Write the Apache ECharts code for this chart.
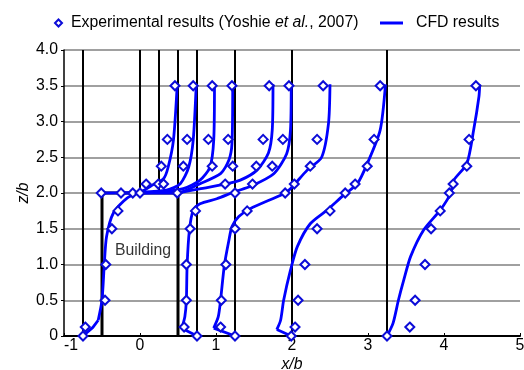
<!DOCTYPE html>
<html>
<head>
<meta charset="utf-8">
<script src="https://cdn.jsdelivr.net/npm/echarts@6/dist/echarts.min.js"></script>
<style>
html,body{margin:0;padding:0;background:#fff;}
#c{width:524px;height:370px;}
</style>
</head>
<body>
<div id="c"></div>
<script>
// ---------- data ----------
var xTicks = [-1, 0, 1, 2, 3, 4, 5];
var zTicks = [0, 0.5, 1, 1.5, 2, 2.5, 3, 3.5, 4];

// measurement heights
var zFull = [0, 0.125, 0.5, 1.0, 1.5, 1.75, 2.0, 2.125, 2.375, 2.75, 3.5];
var zRoof = [2.0, 2.125, 2.375, 2.75, 3.5];

// experimental (plotted x positions)
var expUp    = [-0.75, -0.72, -0.46, -0.45, -0.37, -0.29, -0.095, 0.08, 0.28, 0.36, 0.46];
var expRoofA = [-0.51, 0.24, 0.57, 0.62, 0.70];
var expRoofB = [-0.25, 0.31, 0.95, 0.90, 0.95];
var expRoofC = [0.0, 1.12, 1.22, 1.16, 1.21];
var expEdge  = [0.49, null, 1.53, 1.62, 1.70];
var expW075  = [0.75, 0.58, 0.61, 0.61, 0.66, 0.73, 1.25, 1.48, 1.74, 1.88, 1.96];
var expW125  = [1.25, 1.06, 1.07, 1.13, 1.25, 1.41, 1.91, 2.03, 2.24, 2.33, 2.41];
var expW200  = [1.99, 2.04, 2.08, 2.17, 2.33, 2.50, 2.70, 2.83, 2.99, 3.08, 3.16];
var expW325  = [3.25, 3.55, 3.62, 3.75, 3.83, 3.95, 4.07, 4.12, 4.30, 4.33, 4.42];

// CFD curves [x, z]
var cfdUp = [[-0.75,0],[-0.62,0.12],[-0.55,0.22],[-0.50,0.5],[-0.47,1.0],[-0.44,1.39],[-0.35,1.72],[-0.17,1.93],[0.04,2.03],[0.18,2.12],[0.31,2.2],[0.37,2.36],[0.44,2.74],[0.49,3.52]];
var cfdRoofA = [[-0.5,2.0],[0.0,2.01],[0.35,2.04],[0.53,2.13],[0.64,2.36],[0.70,2.74],[0.74,3.52]];
var cfdRoofB = [[-0.25,2.0],[0.2,2.01],[0.57,2.06],[0.79,2.18],[0.92,2.36],[0.97,2.74],[0.98,3.52]];
var cfdRoofC = [[0.0,2.0],[0.49,2.0],[0.79,2.13],[1.06,2.27],[1.17,2.46],[1.21,2.69],[1.22,3.52]];
var cfdEdge  = [[0.49,2.0],[0.8,2.06],[1.1,2.12],[1.32,2.18],[1.54,2.32],[1.69,2.56],[1.74,2.88],[1.75,3.52]];
var cfdW075  = [[0.75,0],[0.55,0.11],[0.59,0.27],[0.61,0.5],[0.62,0.99],[0.65,1.48],[0.70,1.76],[0.79,1.85],[1.01,1.92],[1.25,2.02],[1.45,2.09],[1.76,2.27],[1.93,2.55],[1.98,2.88],[1.99,3.52]];
var cfdW125  = [[1.25,0],[0.97,0.11],[1.03,0.27],[1.06,0.5],[1.11,0.99],[1.17,1.34],[1.21,1.53],[1.30,1.67],[1.45,1.78],[1.89,1.99],[1.98,2.06],[2.2,2.32],[2.39,2.5],[2.48,2.97],[2.50,3.52]];
var cfdW200  = [[1.99,0],[1.80,0.09],[1.85,0.22],[1.89,0.5],[1.98,0.92],[2.07,1.25],[2.24,1.57],[2.46,1.76],[2.68,1.97],[2.86,2.13],[2.99,2.41],[3.16,2.88],[3.23,3.52]];
var cfdW325  = [[3.25,0],[3.33,0.18],[3.40,0.5],[3.47,0.78],[3.56,1.11],[3.73,1.48],[3.95,1.76],[4.09,2.0],[4.13,2.18],[4.30,2.41],[4.39,2.88],[4.46,3.35],[4.47,3.52]];
var cfdCurves = [cfdUp, cfdRoofA, cfdRoofB, cfdRoofC, cfdEdge, cfdW075, cfdW125, cfdW200, cfdW325];
// number of leading straight (unsmoothed) segments near the ground in each curve
var cfdKink   = [2, 0, 0, 0, 0, 1, 1, 1, 0];

// reference lines and building
var refFull = [-0.75, 0.5, 0.75, 1.25, 2.0, 3.25];
var refRoof = [0.0, 0.25];
var buildingX = [-0.5, 0.5];
var buildingH = 2.0;
var buildingLabel = [0.04, 1.2];
var zTop = 4.0;

// ---------- build ----------
var EXP = 'Experimental results (Yoshie et al., 2007)';
var CFD = 'CFD results';
var BLUE = '#0000ff';
var DBLUE = '#0c0cd8';
var FONT = 'Liberation Sans, Arial, sans-serif';
var FS = 15.8;

function pts(xs, zs) {
  var out = [];
  for (var i = 0; i < xs.length; i++) if (xs[i] !== null) out.push([xs[i], zs[i]]);
  return out;
}
var expData = [].concat(
  pts(expUp, zFull), pts(expRoofA, zRoof), pts(expRoofB, zRoof), pts(expRoofC, zRoof),
  pts(expEdge, zRoof), pts(expW075, zFull), pts(expW125, zFull), pts(expW200, zFull), pts(expW325, zFull));

var series = [];
refFull.forEach(function (x) {
  series.push({type:'line', data:[[x,0],[x,zTop]], symbol:'none', silent:true, z:1,
    lineStyle:{color:'#000', width:2}});
});
refRoof.forEach(function (x) {
  series.push({type:'line', data:[[x,buildingH],[x,zTop]], symbol:'none', silent:true, z:1,
    lineStyle:{color:'#000', width:2}});
});
series.push({type:'line', data:[[buildingX[0],0],[buildingX[0],buildingH],[buildingX[1],buildingH],[buildingX[1],0]],
  symbol:'none', silent:true, z:1, lineStyle:{color:'#000', width:3}});
series.push({type:'scatter', data:[buildingLabel], symbol:'circle', symbolSize:1, silent:true, z:2,
  itemStyle:{color:'rgba(0,0,0,0)'},
  label:{show:true, position:'inside', formatter:'Building', fontSize:FS, fontFamily:FONT, color:'#000'}});

cfdCurves.forEach(function (d, k) {
  var n = cfdKink[k];
  if (n > 0) {
    series.push({name:CFD, type:'line', data:d.slice(0, n + 1), symbol:'none', smooth:false, z:3,
      lineStyle:{color:BLUE, width:2.8, join:'round'}, itemStyle:{color:BLUE}});
  }
  series.push({name:CFD, type:'line', data:d.slice(n), symbol:'none', smooth:0.25, z:3,
    lineStyle:{color:BLUE, width:2.8, join:'round'}, itemStyle:{color:BLUE}});
});
series.push({name:EXP, type:'scatter', data:expData, symbol:'diamond', symbolSize:9, z:5,
  itemStyle:{color:'#fff', borderColor:DBLUE, borderWidth:2, opacity:1}});

var chart = echarts.init(document.getElementById('c'), null, {renderer:'canvas'});
chart.setOption({
  animation:false,
  backgroundColor:'#fff',
  textStyle:{fontFamily:FONT},
  legend:[{
    top:10, left:49, itemWidth:7, itemHeight:7,
    data:[{name:EXP, icon:'diamond', itemStyle:{color:'#fff', borderColor:DBLUE, borderWidth:2}}],
    textStyle:{fontSize:FS, color:'#000', fontFamily:FONT, padding:[0,0,0,4],
      rich:{a:{fontSize:FS, fontFamily:FONT, color:'#000'}, i:{fontSize:FS, fontFamily:FONT, fontStyle:'italic', color:'#000'}}},
    formatter:function () { return '{a|Experimental results (Yoshie }{i|et al.}{a|, 2007)}'; }
  },{
    top:10, left:375, itemWidth:23, itemHeight:3,
    data:[{name:CFD, icon:'rect', itemStyle:{color:BLUE}}],
    textStyle:{fontSize:FS, color:'#000', fontFamily:FONT, padding:[0,0,0,8]}
  }],
  grid:{left:64, right:4, top:50, bottom:34, containLabel:false, outerBoundsMode:'none'},
  xAxis:{type:'value', min:-1, max:5, interval:1,
    name:'x/b', nameLocation:'middle', nameGap:21, nameMoveOverlap:false,
    nameTextStyle:{fontSize:FS, fontStyle:'italic', color:'#000', fontFamily:FONT},
    axisLine:{show:true, onZero:false, lineStyle:{color:'#000', width:2}},
    axisTick:{show:true, inside:true, length:3, lineStyle:{color:'#000', width:1}},
    axisLabel:{fontSize:FS, color:'#000', margin:2, fontFamily:FONT, alignMinLabel:'left'},
    splitLine:{show:false}},
  yAxis:{type:'value', min:0, max:4, interval:0.5,
    name:'z/b', nameLocation:'middle', nameGap:32, nameRotate:90, nameMoveOverlap:false,
    nameTextStyle:{fontSize:FS, fontStyle:'italic', color:'#000', fontFamily:FONT},
    axisLine:{show:true, onZero:false, lineStyle:{color:'#000', width:1.5}},
    axisTick:{show:true, inside:false, length:3, lineStyle:{color:'#000', width:1}},
    axisLabel:{fontSize:FS, color:'#000', margin:6, fontFamily:FONT,
      formatter:function (v) { return v === 0 ? '0' : v.toFixed(1); }},
    splitLine:{show:true, lineStyle:{color:'#a0a0a0', width:1.8}}},
  series:series
});
</script>
</body>
</html>
